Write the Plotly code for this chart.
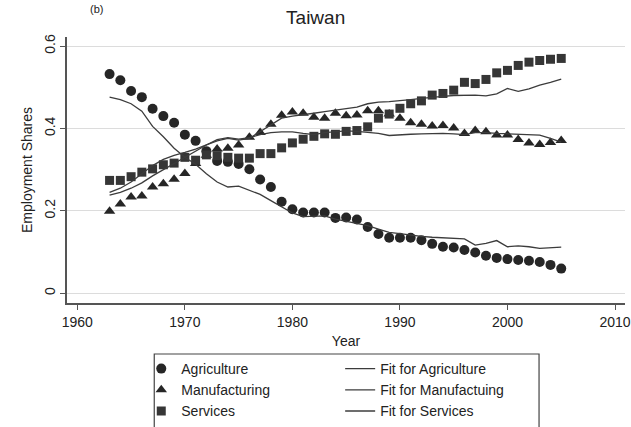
import plotly.graph_objects as go

years = list(range(1963, 2006))

agriculture = [0.532, 0.517, 0.491, 0.476, 0.448, 0.430, 0.414, 0.385, 0.370, 0.345,
               0.321, 0.319, 0.314, 0.301, 0.276, 0.258, 0.222, 0.204, 0.196, 0.196,
               0.196, 0.183, 0.184, 0.179, 0.161, 0.144, 0.135, 0.135, 0.135, 0.129,
               0.120, 0.113, 0.111, 0.105, 0.099, 0.091, 0.086, 0.083, 0.081, 0.079,
               0.076, 0.069, 0.060]

manufacturing = [0.199, 0.217, 0.234, 0.236, 0.258, 0.266, 0.277, 0.291, 0.315, 0.335,
                 0.350, 0.352, 0.360, 0.379, 0.390, 0.410, 0.432, 0.440, 0.437, 0.427,
                 0.425, 0.437, 0.431, 0.433, 0.443, 0.443, 0.435, 0.425, 0.414, 0.410,
                 0.406, 0.407, 0.401, 0.388, 0.395, 0.392, 0.384, 0.384, 0.373, 0.365,
                 0.361, 0.366, 0.371]

services = [0.274, 0.274, 0.283, 0.294, 0.302, 0.312, 0.316, 0.330, 0.323, 0.336,
            0.334, 0.330, 0.328, 0.328, 0.339, 0.339, 0.353, 0.365, 0.374, 0.381,
            0.387, 0.386, 0.393, 0.395, 0.404, 0.425, 0.435, 0.449, 0.460, 0.467,
            0.481, 0.485, 0.493, 0.512, 0.509, 0.519, 0.535, 0.541, 0.553, 0.561,
            0.565, 0.568, 0.570]

fit_agriculture = [0.476, 0.470, 0.460, 0.442, 0.405, 0.380, 0.352, 0.330, 0.313, 0.290,
                   0.270, 0.258, 0.260, 0.250, 0.240, 0.225, 0.210, 0.195, 0.186, 0.187,
                   0.188, 0.180, 0.175, 0.170, 0.164, 0.156, 0.148, 0.145, 0.141, 0.138,
                   0.136, 0.135, 0.134, 0.132, 0.117, 0.121, 0.128, 0.113, 0.115, 0.113,
                   0.109, 0.110, 0.112]

fit_manufacturing = [0.238, 0.245, 0.255, 0.268, 0.285, 0.300, 0.316, 0.332, 0.347, 0.360,
                     0.373, 0.378, 0.374, 0.378, 0.385, 0.390, 0.392, 0.392, 0.388, 0.385,
                     0.390, 0.392, 0.394, 0.393, 0.391, 0.388, 0.383, 0.385, 0.386, 0.387,
                     0.388, 0.388, 0.387, 0.385, 0.390, 0.390, 0.388, 0.387, 0.386, 0.385,
                     0.384, 0.376, 0.367]

fit_services = [0.245, 0.255, 0.270, 0.290, 0.310, 0.325, 0.335, 0.342, 0.350, 0.360,
                0.370, 0.376, 0.372, 0.376, 0.392, 0.410, 0.425, 0.430, 0.433, 0.437,
                0.441, 0.445, 0.448, 0.452, 0.460, 0.464, 0.465, 0.467, 0.470, 0.473,
                0.476, 0.478, 0.480, 0.481, 0.481, 0.479, 0.484, 0.497, 0.490, 0.496,
                0.505, 0.512, 0.520]

x_ticks = [1960, 1970, 1980, 1990, 2000, 2010]
y_ticks = [0, 0.2, 0.4, 0.6]
y_tick_labels = ["0", "0.2", "0.4", "0.6"]

FONT = "Liberation Sans, Arial, sans-serif"
MARK = "#262626"
LINE = "#3c3c3c"

fig = go.Figure()

fig.add_trace(go.Scatter(x=years, y=agriculture, mode="markers", name="Agriculture",
                         marker=dict(symbol="circle", size=10, color=MARK), legend="legend"))
fig.add_trace(go.Scatter(x=years, y=manufacturing, mode="markers", name="Manufacturing",
                         marker=dict(symbol="triangle-up", size=10, color=MARK), legend="legend"))
fig.add_trace(go.Scatter(x=years, y=services, mode="markers", name="Services",
                         marker=dict(symbol="square", size=9, color="#363636"), legend="legend"))

fig.add_trace(go.Scatter(x=years, y=fit_agriculture, mode="lines", name="Fit for Agriculture",
                         line=dict(color=LINE, width=1.3), legend="legend2"))
fig.add_trace(go.Scatter(x=years, y=fit_manufacturing, mode="lines", name="Fit for Manufactuing",
                         line=dict(color=LINE, width=1.3), legend="legend2"))
fig.add_trace(go.Scatter(x=years, y=fit_services, mode="lines", name="Fit for Services",
                         line=dict(color=LINE, width=1.3), legend="legend2"))

W, H = 631, 427
L, R, T, B = 66.7, 6, 37, 124
pw, ph = W - L - R, H - T - B


def px_x(p):
    return (p - L) / pw


def px_y(p):
    return (H - B - p) / ph


fig.update_layout(
    width=W, height=H,
    margin=dict(l=L, r=R, t=T, b=B, pad=0, autoexpand=False),
    paper_bgcolor="white", plot_bgcolor="white",
    font=dict(family=FONT, size=14, color="#222222"),
    title=dict(text="Taiwan", x=px_x(346), xanchor="center", y=1 - 17 / H, yanchor="middle",
               font=dict(size=19, color="#222222")),
    xaxis=dict(range=[1959.04, 2010.93], tickvals=x_ticks, ticks="outside", ticklen=5,
               tickcolor="#555555", showline=True, linecolor="#555555", linewidth=1.5,
               showgrid=False, zeroline=False, tickfont=dict(size=14), automargin=False,
               title=dict(text="Year", font=dict(size=14), standoff=8)),
    yaxis=dict(range=[-0.0235, 0.622], tickvals=y_ticks, ticktext=y_tick_labels, ticks="outside",
               ticklen=5, tickcolor="#555555", showline=True, linecolor="#555555", linewidth=1.5,
               showgrid=True, gridcolor="#dcdcdc", gridwidth=1, zeroline=False,
               tickangle=-90, tickfont=dict(size=14), automargin=False,
               title=dict(text="Employment Shares", font=dict(size=14), standoff=6)),
    legend=dict(x=px_x(141), y=px_y(427), xanchor="left", yanchor="bottom",
                bgcolor="rgba(0,0,0,0)", borderwidth=0, font=dict(size=14),
                tracegroupgap=0),
    legend2=dict(x=px_x(340), y=px_y(427), xanchor="left", yanchor="bottom",
                 bgcolor="rgba(0,0,0,0)", borderwidth=0, font=dict(size=14),
                 tracegroupgap=0),
    showlegend=True,
    shapes=[dict(type="rect", xref="paper", yref="paper",
                 x0=px_x(154), x1=px_x(539), y0=px_y(445), y1=px_y(354),
                 line=dict(color="#444444", width=1.2), fillcolor="rgba(0,0,0,0)")],
    annotations=[dict(text="(b)", xref="paper", yref="paper", x=px_x(96), y=px_y(1),
                      xanchor="center", yanchor="top", showarrow=False,
                      font=dict(size=11, color="#222222"))],
)

fig.write_html("out.html")
